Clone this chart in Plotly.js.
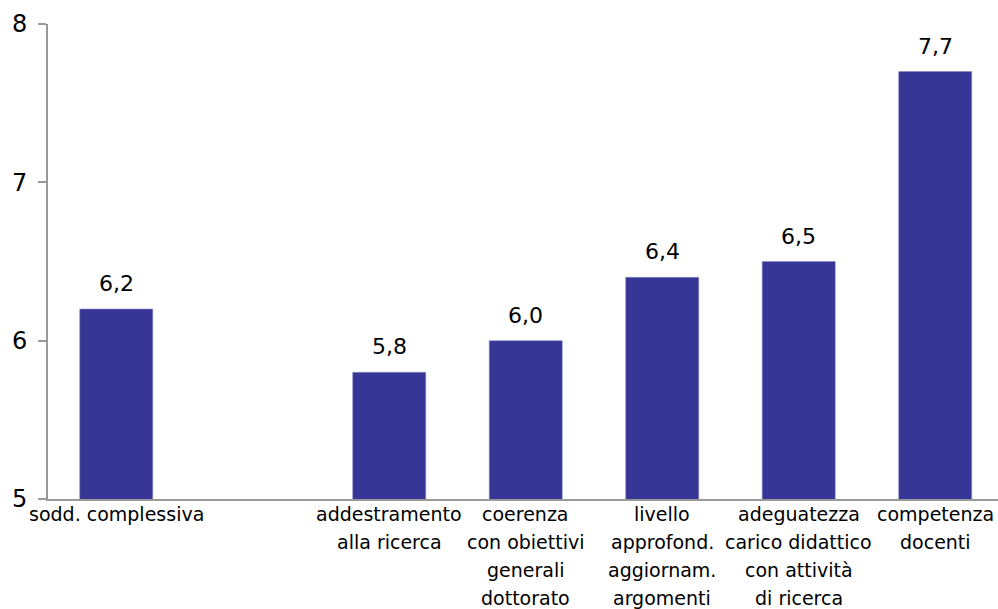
<!DOCTYPE html>
<html>
<head>
<meta charset="utf-8">
<script src="https://cdn.plot.ly/plotly-3.0.1.min.js"></script>
<style>html,body{margin:0;padding:0;background:#fff;overflow:hidden}#chart{width:998px;height:609px}</style>
</head>
<body>
<div id="chart"></div>
<script>
const categories = [
  "sodd. complessiva",
  " ",
  "addestramento<br>alla ricerca",
  "coerenza<br>con obiettivi<br>generali<br>dottorato",
  "livello<br>approfond.<br>aggiornam.<br>argomenti",
  "adeguatezza<br>carico didattico<br>con attività<br>di ricerca",
  "competenza<br>docenti"
];
const values = [6.2, null, 5.8, 6.0, 6.4, 6.5, 7.7];
const yTicks = [5, 6, 7, 8];

const fmt = v => v.toFixed(1).replace('.', ',');
const LINE_GAP = 28;

const annotations = [];
categories.forEach((c, i) => {
  if (values[i] !== null) {
    annotations.push({
      x: c, y: values[i], xref: 'x', yref: 'y',
      text: fmt(values[i]), showarrow: false,
      yanchor: 'bottom', yshift: 11,
      font: {family: 'DejaVu Sans', size: 22, color: '#000'}
    });
  }
  c.split('<br>').forEach((line, k) => {
    if (line.trim() === '') return;
    annotations.push({
      x: c, y: 0, xref: 'x', yref: 'paper',
      text: line, showarrow: false,
      yanchor: 'top', yshift: -(2 + k * LINE_GAP),
      font: {family: 'DejaVu Sans', size: 19, color: '#000'}
    });
  });
});

const trace = {
  type: 'bar',
  x: categories,
  y: values,
  width: 0.535,
  marker: {color: '#363696', line: {color: '#8a8ac4', width: 0.6}},
  hoverinfo: 'none'
};

const layout = {
  width: 998, height: 609,
  margin: {l: 48, r: 0, t: 24, b: 110, pad: 0},
  paper_bgcolor: '#fff', plot_bgcolor: '#fff',
  showlegend: false,
  xaxis: {
    type: 'category',
    range: [-0.5, 6.46],
    showgrid: false, zeroline: false,
    showline: true, linecolor: '#999', linewidth: 2,
    ticks: '', showticklabels: false
  },
  yaxis: {
    range: [5, 8],
    tickvals: yTicks, ticktext: yTicks.map(String),
    showgrid: false, zeroline: false,
    showline: true, linecolor: '#999', linewidth: 2,
    ticks: 'outside', ticklen: 8, tickwidth: 2, tickcolor: '#999',
    ticklabelstandoff: 6,
    tickfont: {family: 'DejaVu Sans', size: 24, color: '#000'}
  },
  annotations: annotations
};

Plotly.newPlot('chart', [trace], layout, {staticPlot: true, displayModeBar: false});
</script>
</body>
</html>
